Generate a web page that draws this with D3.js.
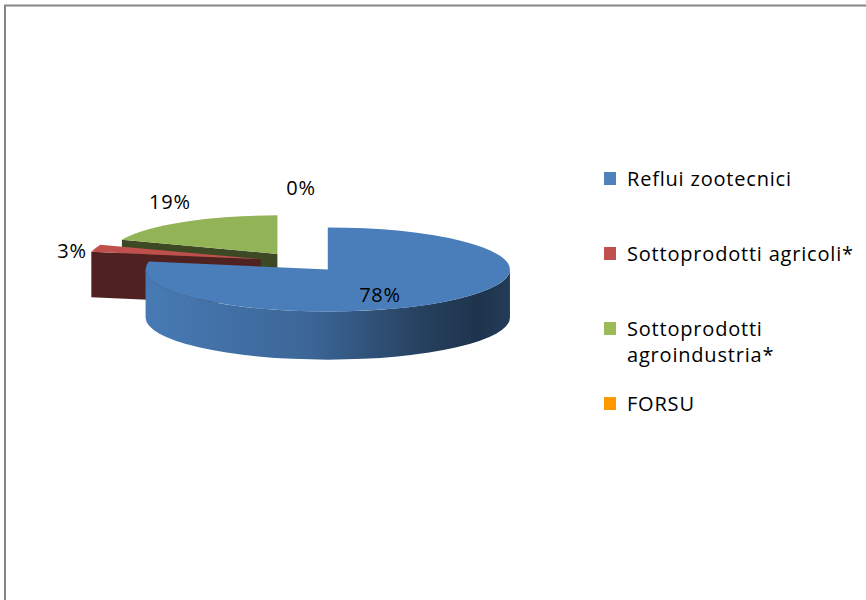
<!DOCTYPE html>
<html>
<head>
<meta charset="utf-8">
<script src="https://cdn.jsdelivr.net/npm/d3@7"></script>
<style>
  body { margin: 0; background: #fff; }
  svg { display: block; }
  text { font-family: "Open Sans", sans-serif; font-size: 20px; letter-spacing: 0.8px; fill: #000; }
</style>
</head>
<body>
<script>
// chart data
var categories = ["Reflui zootecnici", "Sottoprodotti agricoli*", "Sottoprodotti agroindustria*", "FORSU"];
var values = [78, 3, 19, 0];
var labels = ["78%", "3%", "19%", "0%"];
var topColors = ["#4A7EBB", "#C0504D", "#93B357", "#F79646"];
var legendColors = ["#4F81BD", "#C0504D", "#9BBB59", "#FF9900"];

function draw() {
  var svgWidth = 866, svgHeight = 600;

  // pie geometry (tilted ellipse, slight perspective: farther slices drawn smaller)
  var cx = 301, cy = 262, rx = 175, ry = 40.4, depth = 46.2, explode = 42;
  var persp = 0.0055;
  var k = ry / rx;

  var svg = d3.select("body").append("svg")
    .attr("width", svgWidth)
    .attr("height", svgHeight);

  var defs = svg.append("defs");

  // chart area border
  svg.append("rect")
    .attr("x", 5).attr("y", 5.5)
    .attr("width", 1000).attr("height", 1000)
    .attr("fill", "none")
    .attr("stroke", "#868686")
    .attr("stroke-width", 2);

  var arcs = d3.pie().sort(null).value(function(d) { return d; })(values);

  var slices = arcs.map(function(d, i) {
    var mid = (d.startAngle + d.endAngle) / 2;
    var c = [cx + explode * Math.sin(mid), cy - explode * k * Math.cos(mid)];
    var s = 1 + persp * (c[1] - cy);
    return {i: i, a0: d.startAngle, a1: d.endAngle, mid: mid, c: c, value: d.value,
            rx: rx * s, ry: ry * s, depth: depth * s};
  });

  function pt(s, a, ex, ey) {
    return [s.c[0] + (s.rx + (ex || 0)) * Math.sin(a), s.c[1] - (s.ry + (ey || 0)) * Math.cos(a)];
  }
  function down(s, p) { return [p[0], p[1] + s.depth]; }

  // side gradients
  slices.forEach(function(s) {
    var base = d3.color(topColors[s.i]);
    var g = defs.append("linearGradient")
      .attr("id", "side" + s.i)
      .attr("gradientUnits", "userSpaceOnUse")
      .attr("x1", s.c[0] - s.rx).attr("x2", s.c[0] + s.rx)
      .attr("y1", 0).attr("y2", 0);
    [[0, 0.1], [0.45, 0.6], [0.8, 2.1], [0.92, 2.5], [1, 2.1]].forEach(function(st) {
      g.append("stop").attr("offset", st[0]).attr("stop-color", base.darker(st[1]));
    });
  });

  var pieG = svg.append("g");

  // back to front
  var order = slices.filter(function(s) { return s.value > 0; })
    .sort(function(a, b) { return a.c[1] - b.c[1]; });

  order.forEach(function(s) {
    var g = pieG.append("g");
    var c = s.c;
    var wallColor = d3.color(topColors[s.i]).darker(2.5);
    var arcR = s.rx + "," + s.ry;

    // start wall
    if (Math.sin(s.a0) < -1e-6) {
      var p = pt(s, s.a0);
      g.append("path")
        .attr("d", "M" + c + "L" + p + "L" + down(s, p) + "L" + down(s, c) + "Z")
        .attr("fill", wallColor);
    }
    // end wall
    if (Math.sin(s.a1) > 1e-6) {
      var q = pt(s, s.a1);
      g.append("path")
        .attr("d", "M" + c + "L" + q + "L" + down(s, q) + "L" + down(s, c) + "Z")
        .attr("fill", wallColor);
    }
    // outer side (front half only)
    var b0 = Math.max(s.a0, Math.PI / 2), b1 = Math.min(s.a1, 3 * Math.PI / 2);
    if (b1 > b0) {
      var p0 = pt(s, b0), p1 = pt(s, b1);
      g.append("path")
        .attr("d", "M" + p0 + "A" + arcR + " 0 0 1 " + p1 +
                   "L" + down(s, p1) + "A" + arcR + " 0 0 0 " + down(s, p0) + "Z")
        .attr("fill", "url(#side" + s.i + ")");
    }
    // top face
    var t0 = pt(s, s.a0), t1 = pt(s, s.a1);
    var large = (s.a1 - s.a0) > Math.PI ? 1 : 0;
    g.append("path")
      .attr("d", "M" + c + "L" + t0 + "A" + arcR + " 0 " + large + " 1 " + t1 + "Z")
      .attr("fill", topColors[s.i]);
  });

  // data labels
  slices.forEach(function(s) {
    var pos;
    if (s.a1 - s.a0 > Math.PI) {
      pos = [s.c[0] + s.rx * 0.45 * Math.sin(s.mid), s.c[1] - s.ry * 0.45 * Math.cos(s.mid) + s.depth * 0.22];
    } else {
      pos = pt(s, s.mid, 24, 40);
      pos[1] += 13;
    }
    svg.append("text")
      .attr("x", pos[0]).attr("y", pos[1])
      .attr("text-anchor", "middle")
      .attr("dominant-baseline", "central")
      .text(labels[s.i]);
  });

  // legend
  var legendX = 604, textX = 627, firstBaseline = 186, step = 75, lineH = 26, maxW = 235;
  var legend = svg.append("g");
  categories.forEach(function(name, i) {
    var base = firstBaseline + i * step;
    legend.append("rect")
      .attr("x", legendX).attr("y", base - 14)
      .attr("width", 12).attr("height", 13)
      .attr("fill", legendColors[i]);
    var t = legend.append("text").attr("x", textX).attr("y", base);
    var words = name.split(" "), line = [], lineNo = 0;
    var ts = t.append("tspan").attr("x", textX).attr("y", base);
    words.forEach(function(w) {
      line.push(w);
      ts.text(line.join(" "));
      if (ts.node().getComputedTextLength() > maxW && line.length > 1) {
        line.pop();
        ts.text(line.join(" "));
        line = [w];
        lineNo++;
        ts = t.append("tspan").attr("x", textX).attr("y", base + lineNo * lineH).text(w);
      }
    });
  });
}

window.onload = draw;
</script>
</body>
</html>
